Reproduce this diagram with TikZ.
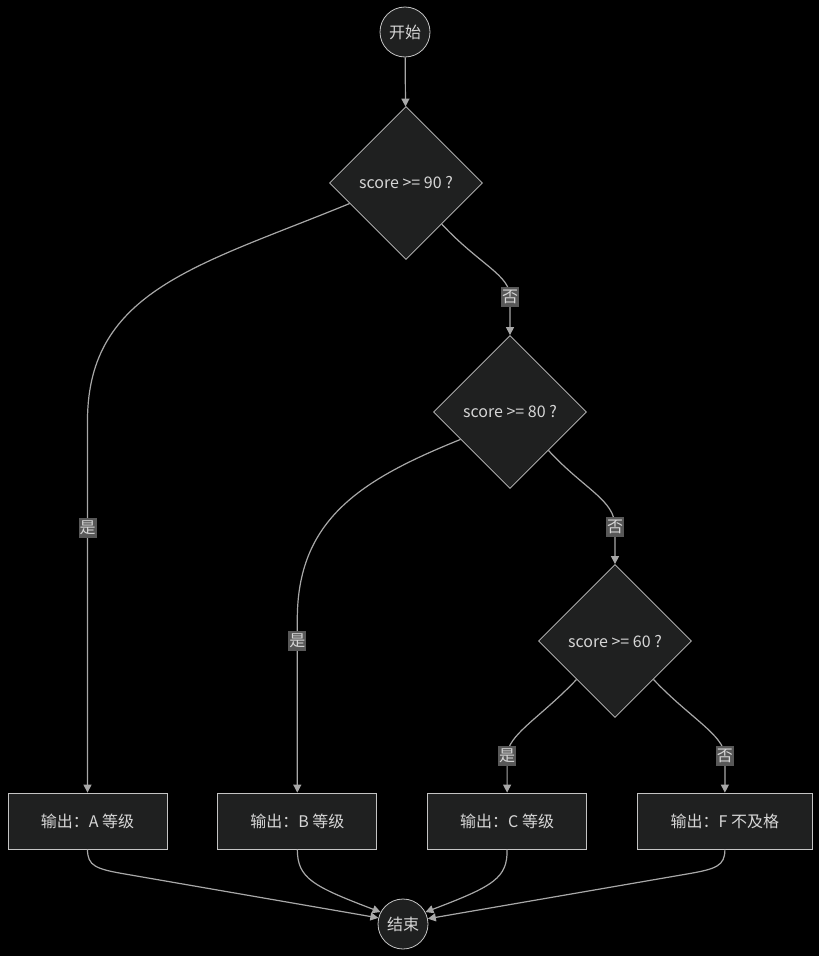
\documentclass[tikz,border=0pt]{standalone}
\usepackage{fontspec}
\setmainfont{Noto Sans CJK SC}
\usetikzlibrary{shapes.geometric,arrows.meta,positioning}
\definecolor{bgc}{HTML}{000000}
\definecolor{nodefill}{HTML}{1F2020}
\definecolor{nodeline}{HTML}{C4C4C4}
\definecolor{linec}{HTML}{A8A8A8}
\definecolor{labelfill}{HTML}{585858}
\definecolor{textc}{HTML}{D6D6D6}
\tikzset{
>={Triangle[length=8pt,width=8pt]}, % filled arrow heads
every node/.style={text=textc,font=\fontsize{16}{18}\selectfont},
term/.style={circle,draw=nodeline,fill=nodefill,line width=0.8pt,minimum size=50pt,inner sep=0pt}, % start / end
test/.style={diamond,draw=nodeline,fill=nodefill,line width=0.8pt,minimum width=153pt,minimum height=153pt,inner sep=0pt},
outbox/.style={rectangle,draw=nodeline,fill=nodefill,line width=0.8pt,minimum width=159pt,minimum height=56pt},
lbl/.style={fill=labelfill,inner xsep=1pt,inner ysep=3pt}, % edge labels
flow/.style={->,draw=linec,line width=1.2pt},
}

\begin{document}
\begin{tikzpicture}[x=1pt,y=-1pt]
    \fill[bgc] (0,0) rectangle (819,956);
    \node[term] (start) at (405,32) {开始};
    \node[test] (d1) at (406,183) {score >= 90 ?};
    \node[test] (d2) at (510,412) {score >= 80 ?};
    \node[test] (d3) at (615,641) {score >= 60 ?};
    \node[outbox] (A) at (87.5,821) {输出：A 等级};
    \node[outbox] (B) [right=50pt of A] {输出：B 等级};
    \node[outbox] (C) [right=50pt of B] {输出：C 等级};
    \node[outbox,minimum width=175pt] (F) [right=50pt of C] {输出：F 不及格};
    \node[term] (end) at (403,924) {结束};

    \draw[flow] (start) -- (d1);
    \draw[flow] (d1.200) .. controls (200,265) and (88,290) .. (A.north |- 0,420) -- node[lbl,pos=0.29] {是} (A);
    \draw[flow] (d1.311) .. controls (480,265) and (510,275) .. (d2.north |- 0,297) node[lbl] {否} -- (d2);
    \draw[flow] (d2.209) .. controls (360,480) and (297,520) .. (B.north |- 0,620) -- node[lbl,pos=0.12] {是} (B);
    \draw[flow] (d2.south east) .. controls (585,490) and (615,500) .. (d3.north |- 0,527) node[lbl] {否} -- (d3);
    \draw[flow] (d3.south west) .. controls (540,718) and (507,735) .. (C.north |- 0,756) node[lbl] {是} -- (C);
    \draw[flow] (d3.south east) .. controls (690,718) and (724,735) .. (F.north |- 0,756) node[lbl] {否} -- (F);

    % everything joins at the end
    \draw[flow] (A.south) .. controls (87.5,866) and (96,869) .. (125,874) -- (end.166);
    \draw[flow] (B.south) .. controls (297.5,878) and (312,886) .. (end.152);
    \draw[flow] (C.south) .. controls (507.5,878) and (494,886) .. (end.28);
    \draw[flow] (F.south) .. controls (725,866) and (716,869) .. (687,874) -- (end.12);
\end{tikzpicture}
\end{document}
